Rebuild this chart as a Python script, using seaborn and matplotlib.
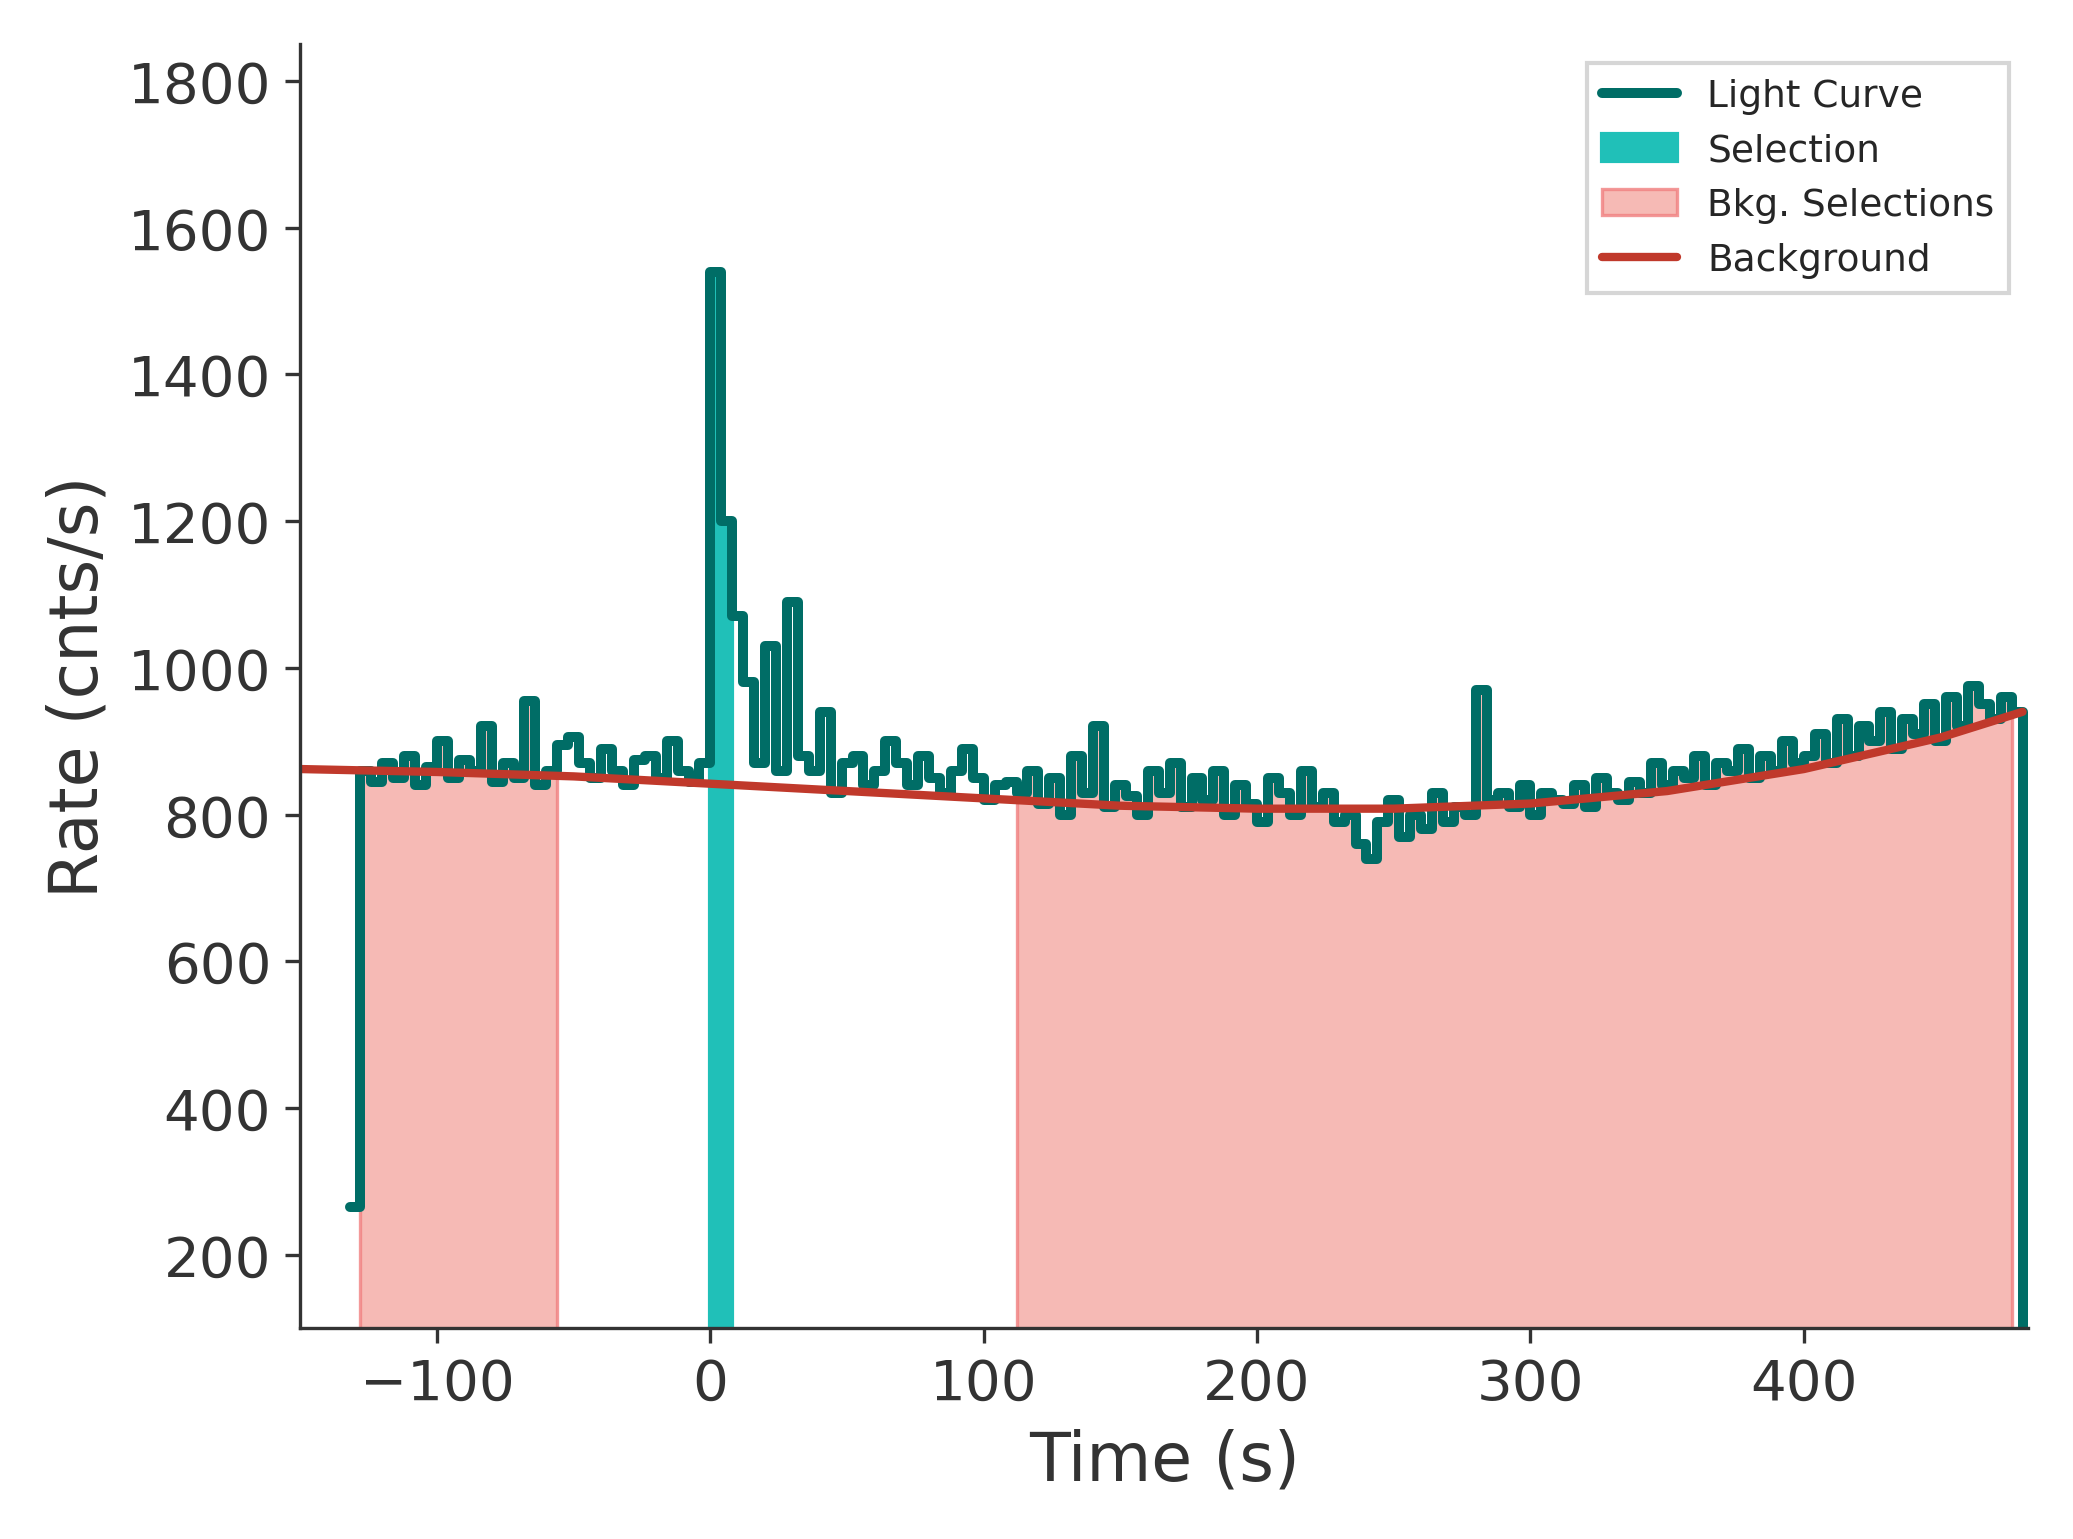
import matplotlib.pyplot as plt
import numpy as np
import seaborn as sns

# light curve, 4 s bins starting at -132 s
bin_start = -132
bin_width = 4
rates = [
    265,
    860, 845, 870, 850, 880, 840, 865, 900, 850, 875, 860, 920, 845, 870, 850, 955, 840, 860,
    895, 905, 870, 850, 890, 860, 840, 875, 880, 850, 900, 860, 845, 870,
    1540, 1200, 1070,
    980, 870, 1030, 860, 1090, 880, 860, 940, 830, 870, 880, 840, 860, 900, 870,
    840, 880, 850, 830, 860, 890, 850, 820, 840, 845,
    830, 860, 815, 850, 800, 880, 830, 920, 810, 840, 825, 800, 860, 830, 870,
    810, 850, 820, 860, 800, 840, 815, 790, 850, 830, 800, 860, 810, 830, 790,
    800, 760, 740, 790, 820, 770, 800, 780, 830, 790, 810, 800,
    970,
    820, 830, 810, 840, 800, 830, 820, 815, 840, 810, 850, 830, 820, 845,
    830, 870, 840, 860, 850, 880, 840, 870, 860, 890, 850, 880, 860, 900, 870,
    880, 910, 870, 930, 880, 920, 900, 940, 890, 930, 910, 950, 900, 960, 920, 975, 950, 930, 960, 940,
]
sel_range = (0, 10)
bkg_ranges = [(-128, -55), (110, 478)]
bkg_t = [-150, -100, -50, 0, 50, 100, 150, 200, 250, 300, 350, 400, 450, 480]
bkg_r = [862, 858, 852, 842, 832, 822, 812, 808, 808, 815, 832, 862, 905, 940]

edges = bin_start + bin_width * np.arange(len(rates) + 1)
r_step = np.append(rates, 100)

sns.set_style("ticks")
fig, ax = plt.subplots(figsize=(6.91, 5.133), dpi=300)

for i, (lo, hi) in enumerate(bkg_ranges):
    m = (edges >= lo) & (edges <= hi)
    ax.fill_between(edges[m], 0, r_step[m], step="post", color="#f4a9a3", alpha=0.8,
                    edgecolor="#f08080", lw=0.8, label="Bkg. Selections" if i == 0 else None)
m = (edges >= sel_range[0]) & (edges <= sel_range[1])
ax.fill_between(edges[m], 0, r_step[m], step="post", color="#20c0b8", label="Selection")
ax.step(edges, r_step, where="post", color="#006d66", lw=2.4, label="Light Curve")
ax.plot(bkg_t, bkg_r, color="#c0392b", lw=2, label="Background")

ax.set_xlim(-150, 482)
ax.set_ylim(100, 1850)
ax.set_yticks(range(200, 1801, 200))
ax.set_xlabel("Time (s)", fontsize=16, color="#333333")
ax.set_ylabel("Rate (cnts/s)", fontsize=16, color="#333333")
ax.tick_params(labelsize=13.5, colors="#333333", direction="out")
for s in ["left", "bottom"]:
    ax.spines[s].set_color("#333333")
sns.despine(ax=ax)

h, l = ax.get_legend_handles_labels()
order = [l.index(x) for x in ["Light Curve", "Selection", "Bkg. Selections", "Background"]]
ax.legend([h[i] for i in order], [l[i] for i in order], loc="upper right", fontsize=9,
          frameon=True, fancybox=False)

fig.tight_layout()
fig.savefig("out.png", dpi=300)
